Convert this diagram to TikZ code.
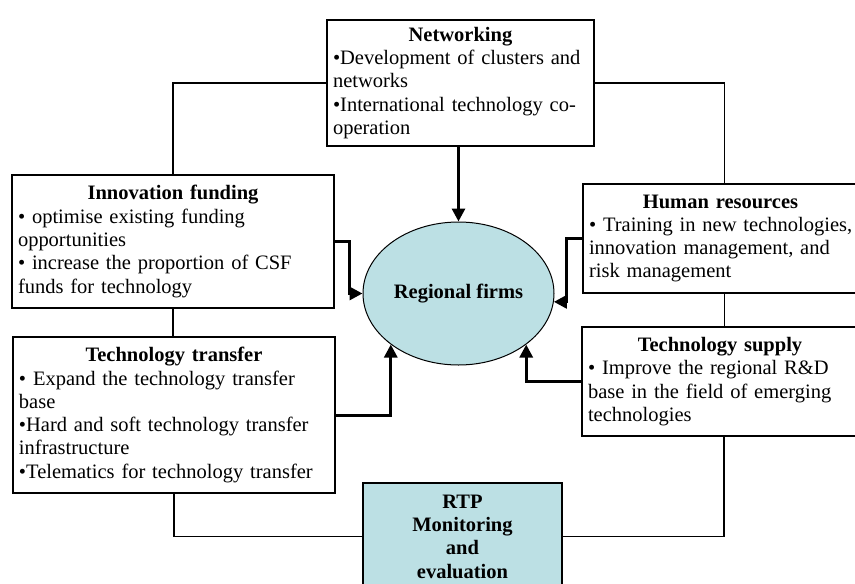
\documentclass[tikz,border=0pt]{standalone}
\usepackage{fontspec}
\setmainfont{Liberation Serif}
\usetikzlibrary{arrows.meta,shapes.geometric}
\definecolor{lcyan}{RGB}{188,224,228}
\begin{document}
\begin{tikzpicture}[x=1pt,y=-1pt,
  font=\fontsize{20.5}{23.3}\selectfont,
  box/.style={draw, line width=1.3pt, fill=white, rectangle, align=left, inner xsep=6pt, inner ysep=0pt},
  thin/.style={line width=1.3pt},
  arr/.style={line width=3pt, -{Triangle[length=13pt,width=13pt]}}
]
\useasboundingbox (0,0) rectangle (855,584);

\node[box, minimum width=267pt, text width=255pt, minimum height=126pt] (net) at (460.5,83)
  {\noindent\hfill\textbf{Networking}\hfill\null\\
   •Development of clusters and\\
   networks\\
   •International technology co-\\
   operation};

\node[box, minimum width=322pt, text width=310pt, minimum height=133pt] (inn) at (173,241.5)
  {\noindent\hfill\textbf{Innovation funding}\hfill\null\\
   • optimise existing funding\\
   opportunities\\
   • increase the proportion of CSF\\
   funds for technology};

\node[box, minimum width=322pt, text width=310pt, minimum height=156pt] (tt) at (174,415)
  {\noindent\hfill\textbf{Technology transfer}\hfill\null\\
   • Expand the technology transfer\\
   base\\
   •Hard and soft technology transfer\\
   infrastructure\\
   •Telematics for technology transfer};

\node[box, minimum width=283pt, text width=271pt, minimum height=109pt] (hr) at (724.5,238.5)
  {\noindent\hspace*{-8pt}\hfill\textbf{Human resources}\hfill\null\\
   • Training in new technologies,\\
   innovation management, and\\
   risk management};

\node[box, minimum width=284pt, text width=272pt, minimum height=109pt] (ts) at (724,381.5)
  {\noindent\hspace*{-8pt}\hfill\textbf{Technology supply}\hfill\null\\
   • Improve the regional R\&D\\
   base in the field of emerging\\
   technologies};

\node[box, fill=lcyan, align=center, font=\fontsize{20.5}{23.3}\selectfont\bfseries,
      minimum width=199pt, text width=187pt, minimum height=107pt] (rtp) at (462.5,536.5)
  {RTP\\Monitoring\\and\\evaluation};

\node[ellipse, draw, line width=1pt, fill=lcyan, minimum width=191pt, minimum height=143pt,
      inner sep=0pt] (ell) at (458.5,293.5) {\textbf{Regional firms}};

% thin connectors
\draw[thin] (net.west) -| (inn.north);
\draw[thin] (net.east) -| (hr.north);
\draw[thin] (inn.south) -- (inn.south |- tt.north);
\draw[thin] (hr.south) -- (hr.south |- ts.north);
\draw[thin] (tt.south) |- (rtp.west);
\draw[thin] (ts.south) |- (rtp.east);

% thick arrows
\draw[arr] (ell.north |- net.south) -- (ell.north);
\draw[arr] (inn.east) -- ++(15,0) |- (ell.west);
\draw[arr] (hr.west) -- ++(-16,0) |- (ell.-5);
\draw[arr] (tt.east) -| (ell.217);
\draw[arr] (ts.west) -| (ell.323);
\end{tikzpicture}
\end{document}
